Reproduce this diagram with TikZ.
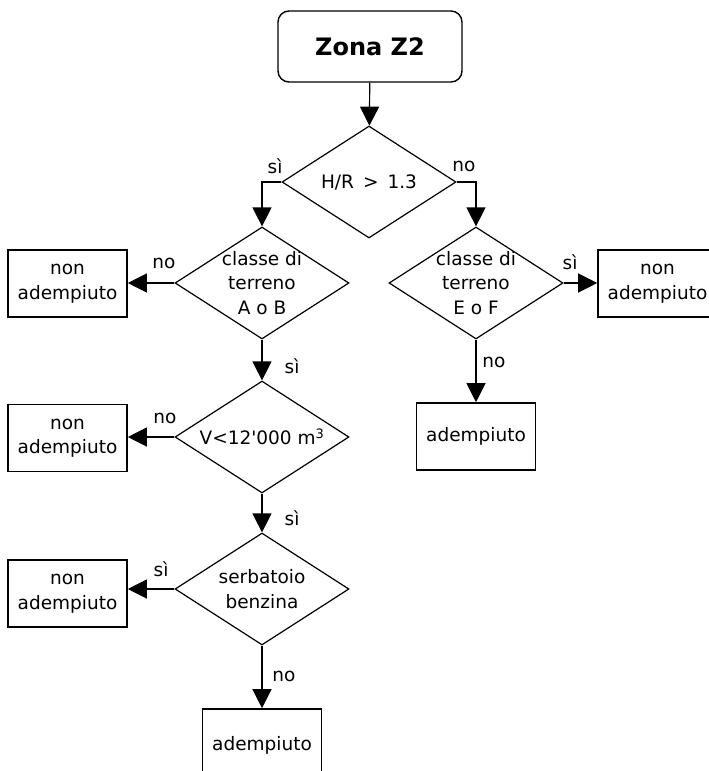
\documentclass[tikz,border=0pt]{standalone}
\usepackage{fontspec}
\setmainfont{DejaVu Sans}
\usetikzlibrary{shapes.geometric,arrows.meta}
\tikzset{
  base/.style={font=\fontsize{18.5}{24.5}\selectfont, align=center, inner sep=0pt},
  startbox/.style={base, draw, line width=1.4pt, rounded corners=11pt, minimum width=184pt, minimum height=71pt, font=\fontsize{24}{28}\bfseries\selectfont},
  decision/.style={base, draw, diamond, aspect=1.55, line width=1.2pt, minimum width=174pt, minimum height=112pt},
  tight/.style={inner sep=-4pt},
  outbox/.style={base, draw, line width=1.6pt, minimum width=119pt, minimum height=67pt},
  lbl/.style={font=\fontsize{18.5}{20}\selectfont, inner sep=0pt},
  conn/.style={line width=1.2pt, -{Triangle[length=19pt,width=19pt]}}
}
\begin{document}
\begin{tikzpicture}[x=1pt,y=-1pt]
\useasboundingbox (0,0) rectangle (709,771);
\clip (0,0) rectangle (709,771);
\fill[white] (0,0) rectangle (709,771);

\node[startbox] (z) at (370,46.5) {Zona Z2};
\node[decision] (d1) at (369,182) {H/R \,>\, 1.3};
\node[decision, tight] (d2) at (262,283) {classe di\\terreno\\A o B};
\node[decision] (d3) at (262,437) {V<12\textquotesingle 000 m\textsuperscript{3}};
\node[decision] (d4) at (262,589) {serbatoio\\benzina};
\node[decision, tight] (d5) at (476,283) {classe di\\terreno\\E o F};

\node[outbox] (b1) at (67.5,283.5) {non\\adempiuto};
\node[outbox] (b2) at (67.5,438) {non\\adempiuto};
\node[outbox] (b3) at (67.5,593.5) {non\\adempiuto};
\node[outbox] (b4) at (657.5,283.5) {non\\adempiuto};
\node[outbox] (a1) at (476,436.5) {adempiuto};
\node[outbox, minimum height=72pt] (a2) at (262,745) {adempiuto};

\draw[conn] (z) -- (d1);
\draw[conn] (d1.west) -| (d2.north);
\draw[conn] (d1.east) -| (d5.north);
\draw[conn] (d2.west) -- (d2.west -| b1.east);
\draw[conn] (d2.south) -- (d3.north);
\draw[conn] (d3.west) -- (d3.west -| b2.east);
\draw[conn] (d3.south) -- (d4.north);
\draw[conn] (d4.west) -- (d4.west -| b3.east);
\draw[conn] (d4.south) -- (a2.north);
\draw[conn] (d5.east) -- (d5.east -| b4.west);
\draw[conn] (d5.south) -- (a1.north);

\node[lbl] (l1) at (275,166) {sì};
\node[lbl] (l2) at (464,166) {no};
\node[lbl] (l3) at (164,263) {no};
\node[lbl] (l4) at (292,366) {sì};
\node[lbl] (l5) at (165,418) {no};
\node[lbl] (l6) at (292,518) {sì};
\node[lbl] (l7) at (161,569) {sì};
\node[lbl] (l8) at (284,676) {no};
\node[lbl] (l9) at (570,262) {sì};
\node[lbl] (l10) at (494,362) {no};
\end{tikzpicture}
\end{document}
